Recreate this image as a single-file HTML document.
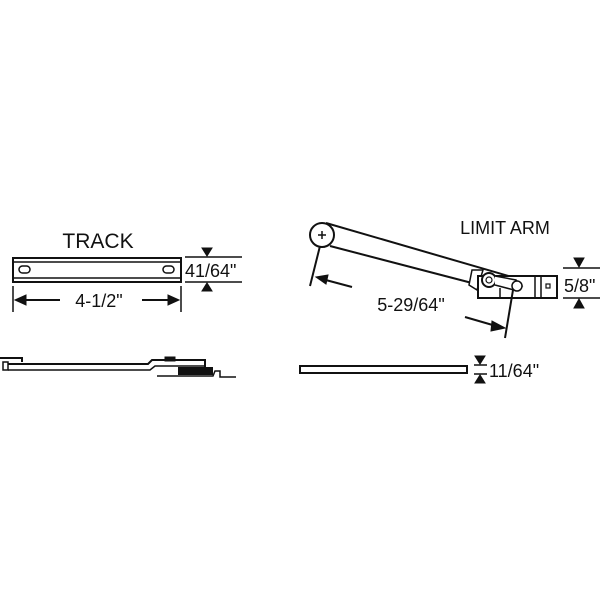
<!DOCTYPE html>
<html><head><style>body{margin:0;background:#fff}svg{display:block}</style></head><body>
<svg width="600" height="600" viewBox="0 0 600 600" xmlns="http://www.w3.org/2000/svg" font-family="Liberation Sans, sans-serif" fill="none" stroke="#111">
<!-- TRACK -->
<text x="98" y="248" font-size="21" fill="#111" stroke="none" text-anchor="middle">TRACK</text>
<rect x="13" y="258" width="168" height="24" stroke-width="2"/>
<line x1="13" y1="262" x2="181" y2="262" stroke-width="1.5"/>
<line x1="13" y1="278" x2="181" y2="278" stroke-width="1.5"/>
<rect x="19" y="266" width="11" height="7" rx="3.5" stroke-width="1.5"/>
<rect x="163" y="266" width="11" height="7" rx="3.5" stroke-width="1.5"/>
<line x1="13" y1="286" x2="13" y2="312" stroke-width="1.5"/>
<line x1="181" y1="286" x2="181" y2="312" stroke-width="1.5"/>
<line x1="18" y1="300" x2="60" y2="300" stroke-width="2"/>
<polygon points="15,300 26,295 26,305" fill="#111"/>
<line x1="142" y1="300" x2="176" y2="300" stroke-width="2"/>
<polygon points="179,300 168,295 168,305" fill="#111"/>
<text x="99" y="307" font-size="18" fill="#111" stroke="none" text-anchor="middle">4-1/2"</text>
<line x1="185" y1="257" x2="242" y2="257" stroke-width="1.5"/>
<line x1="185" y1="282" x2="242" y2="282" stroke-width="1.5"/>
<polygon points="202,248 212,248 207,256" fill="#111"/>
<polygon points="202,291 212,291 207,283" fill="#111"/>
<text x="185" y="277" font-size="18" fill="#111" stroke="none">41/64"</text>
<!-- track side view -->
<polyline points="0,358 22,358 22,362" stroke-width="2"/>
<rect x="3" y="362" width="5" height="8" stroke-width="1.5"/>
<polyline points="8,364 148,364 152,360 205,360 205,368" stroke-width="2"/>
<polyline points="8,370 150,370 155,366 205,366" stroke-width="1.5"/>
<rect x="165" y="357" width="10" height="4" fill="#111"/>
<rect x="178" y="367" width="35" height="8" fill="#111" stroke="none"/>
<polyline points="157,376 213,376 215,371 220,371 220,377 236,377" stroke-width="1.5"/>
<!-- LIMIT ARM -->
<text x="505" y="234" font-size="18" fill="#111" stroke="none" text-anchor="middle">LIMIT ARM</text>
<line x1="326" y1="223" x2="512" y2="277" stroke-width="2"/>
<line x1="330" y1="246" x2="472" y2="283" stroke-width="2"/>
<circle cx="322" cy="235" r="12" fill="#fff" stroke-width="2"/>
<line x1="318" y1="235" x2="326" y2="235" stroke-width="1.5"/>
<line x1="322" y1="231" x2="322" y2="239" stroke-width="1.5"/>
<polygon points="472,270 483,270 477,290 469,285" fill="#fff" stroke-width="1.5"/>
<rect x="478" y="276" width="79" height="22" fill="#fff" stroke-width="2"/>
<line x1="500" y1="288" x2="500" y2="298" stroke-width="1.5"/>
<line x1="535" y1="276" x2="535" y2="298" stroke-width="1.5"/>
<line x1="541" y1="276" x2="541" y2="298" stroke-width="1.5"/>
<rect x="546" y="284" width="4" height="4" stroke-width="1.2"/>
<circle cx="489" cy="280" r="7" fill="#fff" stroke-width="2"/>
<circle cx="489" cy="280" r="3" stroke-width="1.2"/>
<polyline points="495,276 516,280 522,286 514,290 495,285" fill="#fff" stroke-width="1.5"/>
<circle cx="517" cy="286" r="5" fill="#fff" stroke-width="1.5"/>
<line x1="320" y1="246" x2="310" y2="286" stroke-width="2"/>
<line x1="352" y1="287" x2="322" y2="279" stroke-width="2"/>
<polygon points="316,277 328,275 326,284" fill="#111"/>
<text x="411" y="311" font-size="18" fill="#111" stroke="none" text-anchor="middle">5-29/64"</text>
<line x1="465" y1="317" x2="496" y2="326" stroke-width="2"/>
<polygon points="505,328 492,321 491,331" fill="#111"/>
<line x1="513" y1="290" x2="505" y2="338" stroke-width="2"/>
<line x1="563" y1="268" x2="600" y2="268" stroke-width="1.5"/>
<line x1="563" y1="298" x2="600" y2="298" stroke-width="1.5"/>
<polygon points="574,258 584,258 579,267" fill="#111"/>
<polygon points="574,308 584,308 579,299" fill="#111"/>
<text x="564" y="292" font-size="18" fill="#111" stroke="none">5/8"</text>
<!-- bottom bar -->
<rect x="300" y="366" width="167" height="7" stroke-width="2"/>
<line x1="474" y1="365" x2="487" y2="365" stroke-width="1.5"/>
<line x1="474" y1="374" x2="487" y2="374" stroke-width="1.5"/>
<polygon points="475,356 485,356 480,364" fill="#111"/>
<polygon points="475,383 485,383 480,375" fill="#111"/>
<text x="489" y="377" font-size="18" fill="#111" stroke="none">11/64"</text>
</svg>
</body></html>
